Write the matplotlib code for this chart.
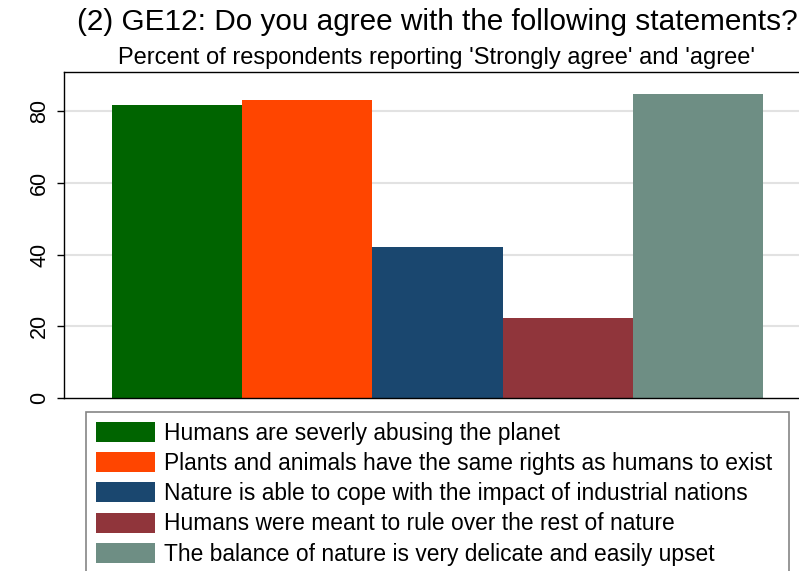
import matplotlib
matplotlib.use("Agg")
import matplotlib.pyplot as plt
from matplotlib.patches import Patch

plt.rcParams["font.family"] = ["Liberation Sans", "DejaVu Sans"]

statements = ["Humans are severly abusing the planet",
              "Plants and animals have the same rights as humans to exist",
              "Nature is able to cope with the impact of industrial nations",
              "Humans were meant to rule over the rest of nature",
              "The balance of nature is very delicate and easily upset"]
percent = [81.7, 83.1, 42.1, 22.3, 84.7]
colors = ["#006400", "#ff4500", "#1a476f", "#90353b", "#6e8e84"]
yticks = [0, 20, 40, 60, 80]

W, H = 799, 571
fig = plt.figure(figsize=(W / 100, H / 100), dpi=100)
fig.patch.set_facecolor("white")

# plot region (right side of the original is cropped)
x0, x1, ytop, ybot = 64, 811, 72, 398
ax = fig.add_axes([x0 / W, 1 - ybot / H, (x1 - x0) / W, (ybot - ytop) / H])

pad = 48 / 130.2
for i, (v, c) in enumerate(zip(percent, colors)):
    ax.bar(i, v, width=1.0, color=c, zorder=2)
ax.set_xlim(-0.5 - pad, len(percent) - 0.5 + pad)
ax.set_ylim(0, 90.9)

ax.set_yticks(yticks)
ax.set_yticklabels([str(t) for t in yticks], rotation=90, va="center", fontsize=15.5)
ax.set_xticks([])
ax.tick_params(axis="y", length=5, width=1, pad=5)
for t in yticks[1:]:
    ax.axhline(t, color="#e2e2e2", lw=1.5, zorder=1)
for s in ["left", "bottom", "top"]:
    ax.spines[s].set_color("black")
    ax.spines[s].set_linewidth(1)
ax.spines["right"].set_visible(False)

fig.text(437 / W, 1 - 22 / H, "(2) GE12: Do you agree with the following statements?",
         ha="center", va="center", fontsize=21.4)
fig.text(437 / W, 1 - 58 / H, "Percent of respondents reporting 'Strongly agree' and 'agree'",
         ha="center", va="center", fontsize=17)

handles = [Patch(facecolor=c, edgecolor="none") for c in colors]
leg = fig.legend(handles, statements, loc="upper left",
                 bbox_to_anchor=(86 / W, 1 - 412 / H - 0.01, (789 - 86) / W, 0.01),
                 mode="expand", fontsize=16.4, frameon=True, fancybox=False,
                 edgecolor="#666666", handlelength=2.6, handleheight=0.96,
                 handletextpad=0.4, labelspacing=0.32, borderpad=0.42,
                 borderaxespad=0)
leg.get_frame().set_linewidth(1.2)

fig.savefig("out.png", dpi=100)
